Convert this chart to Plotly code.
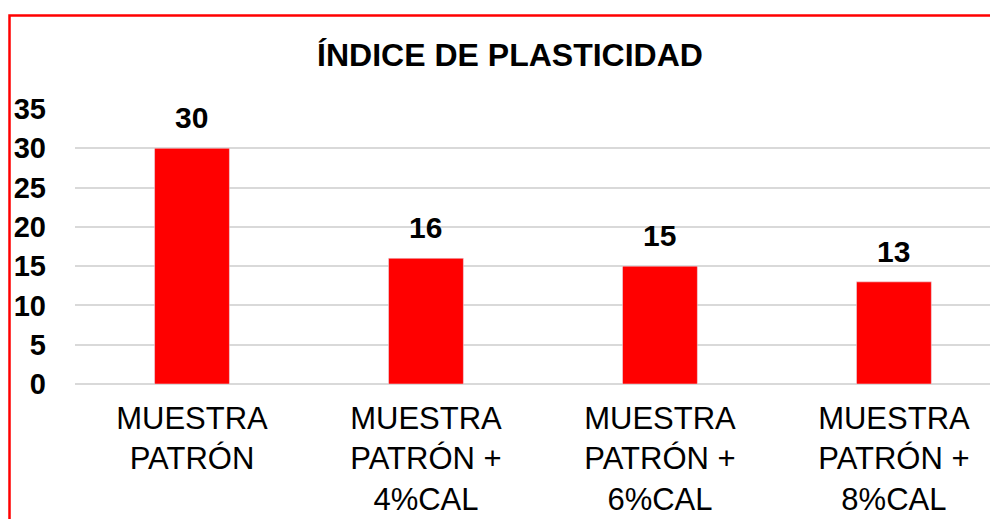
import plotly.graph_objects as go

categories = ["MUESTRA<br>PATRÓN", "MUESTRA<br>PATRÓN +<br>4%CAL",
              "MUESTRA<br>PATRÓN +<br>6%CAL", "MUESTRA<br>PATRÓN +<br>8%CAL"]
indice = [30, 16, 15, 13]
y_ticks = [0, 5, 10, 15, 20, 25, 30, 35]

FONT = "Liberation Sans, Arial, sans-serif"
W, H = 998, 519
# the page body adds 8px, so the figure is laid out 8px up/left
L, R, T, B = 67, 0, 101, 143

fig = go.Figure(go.Bar(x=categories, y=indice, marker_color="#ff0000",
                       width=0.32, hoverinfo="skip"))

# value labels above the bars
for c, v in zip(categories, indice):
    fig.add_annotation(x=c, y=v, text=str(v), showarrow=False,
                       yanchor="bottom", yshift=12,
                       font=dict(family=FONT, size=30, color="black", weight="bold"))

# red frame round the chart (cut by the window on the right and bottom)
pw, ph = W - L - R, H - T - B
fig.add_shape(type="rect", xref="paper", yref="paper",
              x0=(1.5 - L) / pw, x1=(W + 30 - L) / pw,
              y0=-(B + 30) / ph, y1=(H - B - 7.5) / ph,
              line=dict(color="#ff0000", width=2.5), layer="above")

fig.update_layout(
    width=W, height=H,
    margin=dict(l=L, r=R, t=T, b=B),
    paper_bgcolor="white", plot_bgcolor="white",
    showlegend=False,
    font=dict(family=FONT, color="black"),
    title=dict(text="ÍNDICE DE PLASTICIDAD", x=502 / W, xanchor="center",
               xref="container", y=1 - 47 / H, yanchor="middle",
               font=dict(family=FONT, size=32, color="black", weight="bold")),
)
fig.update_xaxes(range=[-0.5, 3.479], showgrid=False, showline=False,
                 ticks="", tickfont=dict(family=FONT, size=31, color="black"),
                 ticklabelstandoff=13, fixedrange=True)
fig.update_yaxes(range=[0, 35], tickvals=y_ticks, showgrid=True,
                 gridcolor="#d9d9d9", gridwidth=2, zeroline=True,
                 zerolinecolor="#d9d9d9", zerolinewidth=2, showline=False,
                 ticks="", tickfont=dict(family=FONT, size=29, color="black", weight="bold"),
                 ticklabelstandoff=28, fixedrange=True)

fig.write_html("out.html")
